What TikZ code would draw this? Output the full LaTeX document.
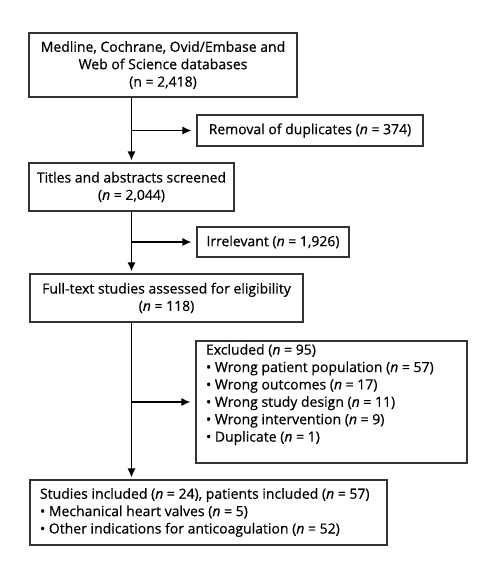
\documentclass[tikz,border=0pt]{standalone}
\usepackage{fontspec}
\setmainfont{Open Sans}[FakeBold=0.5,AutoFakeBold=0.5]
\usetikzlibrary{arrows.meta,calc}
\begin{document}
\begin{tikzpicture}[x=1pt,y=-1pt,
  box/.style={draw=black!80,line width=1.2pt,inner sep=0pt,font=\fontsize{14}{17.4}\selectfont},
  arr/.style={line width=1.2pt,-{Latex[length=9pt,width=8pt]}},
  every node/.append style={text=black}]
\useasboundingbox (0,0) rectangle (497,578);
\fill[white] (0,0) rectangle (497,578);
\node[box,minimum width=268pt,minimum height=64pt,align=center] (db) at (163,65)
  {Medline, Cochrane, Ovid/Embase and\\Web of Science databases\\(n = 2,418)};
\node[box,minimum width=226pt,minimum height=31pt] (dup) at (310,130.5)
  {Removal of duplicates (\textit{n} = 374)};
\node[box,minimum width=205pt,minimum height=48pt,align=center] (ta) at (131.5,187)
  {Titles and abstracts screened\\(\textit{n} = 2,044)};
\node[box,minimum width=152pt,minimum height=30pt] (irr) at (273,242)
  {Irrelevant (\textit{n} = 1,926)};
\node[box,minimum width=273pt,minimum height=48pt,align=center] (ft) at (166.5,298)
  {Full-text studies assessed for eligibility\\(\textit{n} = 118)};
\node[box,minimum width=271pt,minimum height=122pt] (ex) at (331.5,402)
  {\hspace*{10pt}\begin{minipage}[c][116pt][t]{261pt}\raggedright
   Excluded (\textit{n} = 95)\\
   • Wrong patient population (\textit{n} = 57)\\
   • Wrong outcomes (\textit{n} = 17)\\
   • Wrong study design (\textit{n} = 11)\\
   • Wrong intervention (\textit{n} = 9)\\
   • Duplicate (\textit{n} = 1)\end{minipage}};
\node[box,minimum width=357pt,minimum height=65pt] (inc) at (208.5,512.5)
  {\hspace*{10pt}\begin{minipage}{347pt}\raggedright
   Studies included (\textit{n} = 24), patients included (\textit{n} = 57)\\
   • Mechanical heart valves (\textit{n} = 5)\\
   • Other indications for anticoagulation (\textit{n} = 52)\end{minipage}};
\draw[arr,shorten >=2pt] (db.south -| ta.north) -- (ta.north);
\draw[arr,shorten >=5pt] (dup.west -| ta.north) -- (dup.west);
\draw[arr,shorten >=2pt] (ta.south) -- (ft.north -| ta.south);
\draw[arr,shorten >=5pt] (irr.west -| ta.north) -- (irr.west);
\draw[arr,shorten >=2pt] (ft.south -| ta.south) -- (inc.north -| ta.south);
\draw[arr,shorten >=5pt] (ex.west -| ta.north) -- (ex.west);
\end{tikzpicture}
\end{document}
